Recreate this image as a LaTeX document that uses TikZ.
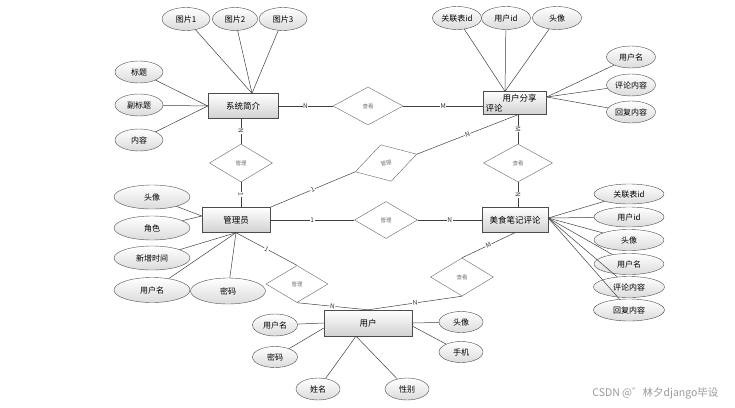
\documentclass[tikz,border=0pt]{standalone}
\usepackage{fontspec}
\setmainfont{Noto Sans CJK SC}
\usepackage{tikz}
\usetikzlibrary{shapes.geometric}

\begin{document}
\begin{tikzpicture}[x=1pt, y=-1pt,
  ent/.style={draw=black!70, top color=white, bottom color=black!18, minimum width=68pt, minimum height=25pt, inner sep=1pt, font=\fontsize{8.5}{10}\selectfont},
  attr/.style={ellipse, draw=black!70, top color=white, bottom color=black!14, minimum width=48pt, minimum height=23pt, inner sep=0pt, font=\fontsize{8}{9}\selectfont},
  rel/.style={diamond, draw=black!60, fill=white, minimum width=66pt, minimum height=38pt, inner sep=0pt, font=\fontsize{5.5}{6}\selectfont, text=black!55},
  ln/.style={draw=black!75, line width=0.5pt},
  card/.style={fill=white, inner sep=0.6pt, sloped, font=\fontsize{6.5}{7}\selectfont, text=black!80}
]
\useasboundingbox (0,0) rectangle (735,407);

\node[ent, minimum width=70pt] at (243,106) (sys) {系统简介};
\node[ent, minimum width=63pt, minimum height=23pt, inner sep=2pt, text width=59pt, align=left] at (515,103) (share) {\hspace*{17pt}用户分享\\评论};
\node[ent] at (236,220) (adm) {管理员};
\node[ent, minimum width=66pt] at (515,220) (cmt) {美食笔记评论};
\node[ent, minimum width=88pt, minimum height=26pt] at (368,323) (usr) {用户};

\node[rel, minimum width=70pt] at (368,106) (see1) {查看};
\node[rel, minimum width=63pt] at (241,163) (mng1) {管理};
\node[rel, minimum width=64pt, rotate=16] at (386,163) (mng2) {管理};
\node[rel, minimum width=69pt] at (518,163) (see2) {查看};
\node[rel, minimum width=63pt, minimum height=37pt] at (386,220) (mng3) {管理};
\node[rel, minimum width=62pt, minimum height=37pt] at (297,284) (mng4) {管理};
\node[rel, minimum width=63pt] at (462,277) (see3) {查看};
\coordinate (sharebot) at (see2.north |- share.south);

\node[attr] at (186,19) (pic1) {图片1};
\node[attr, minimum width=45pt] at (235,19) (pic2) {图片2};
\node[attr] at (283,19) (pic3) {图片3};
\node[attr, minimum height=22pt] at (139,72) (title) {标题};
\node[attr, minimum height=22pt] at (139,105) (subt) {副标题};
\node[attr, minimum height=22pt] at (139,140) (intro) {内容};

\node[attr, minimum width=49pt] at (457,18) (sid) {关联表id};
\node[attr, minimum width=49pt] at (506,18) (suid) {用户id};
\node[attr, minimum width=49pt] at (557,18) (sava) {头像};
\node[attr, minimum width=49pt, minimum height=22pt] at (631,57) (suser) {用户名};
\node[attr, minimum width=49pt, minimum height=22pt] at (631,85) (stext) {评论内容};
\node[attr, minimum width=49pt, minimum height=22pt] at (631,112) (sreply) {回复内容};

\node[attr, minimum width=76pt, minimum height=24pt] at (152,197) (aava) {头像};
\node[attr, minimum width=76pt, minimum height=24pt] at (152,228) (arole) {角色};
\node[attr, minimum width=76pt, minimum height=24pt] at (152,258) (atime) {新增时间};
\node[attr, minimum width=76pt, minimum height=25pt] at (152,290) (aname) {用户名};
\node[attr, minimum width=75pt, minimum height=26pt] at (228,291) (apwd) {密码};

\node[attr, minimum width=70pt, minimum height=20pt] at (629,194) (cid) {关联表id};
\node[attr, minimum width=70pt, minimum height=20pt] at (629,217) (cuid) {用户id};
\node[attr, minimum width=70pt, minimum height=21pt] at (629,240) (cava) {头像};
\node[attr, minimum width=70pt, minimum height=21pt] at (629,264) (cname) {用户名};
\node[attr, minimum width=71pt, minimum height=21pt] at (629,287) (ctext) {评论内容};
\node[attr, minimum width=71pt, minimum height=22pt] at (629,310) (creply) {回复内容};

\node[attr, minimum width=45pt, minimum height=22pt] at (275,325) (uname) {用户名};
\node[attr, minimum width=45pt, minimum height=21pt] at (275,357) (upwd) {密码};
\node[attr, minimum width=44pt, minimum height=22pt] at (318,389) (ureal) {姓名};
\node[attr, minimum width=44pt, minimum height=22pt] at (407,389) (usex) {性别};
\node[attr, minimum width=44pt, minimum height=21pt] at (461,322) (uava) {头像};
\node[attr, minimum width=44pt, minimum height=21pt] at (461,352) (utel) {手机};

\node[anchor=east, text=black!40, font=\fontsize{10.5}{12}\selectfont] at (722,393) (mark) {CSDN @゛林夕django毕设};

\draw[ln] (sys) -- node[card] {N} (see1);
\draw[ln] (see1.east) -- node[card] {M} (see1.east -| share.west);
\draw[ln] (mng1.north |- sys.south) -- node[card] {N} (mng1.north);
\draw[ln] (mng1.south) -- node[card] {1} (mng1.south |- adm.north);
\draw[ln] (adm.north east) -- node[card] {1} (mng2.west);
\draw[ln] (mng2.east) -- node[card] {N} (sharebot);
\draw[ln] (sharebot) -- node[card] {M} (see2.north);
\draw[ln] (see2.south) -- node[card] {N} (see2.south |- cmt.north);
\draw[ln] (adm) -- node[card] {1} (mng3);
\draw[ln] (mng3) -- node[card] {N} (cmt);
\draw[ln] (cmt.south) -- node[card] {M} (see3.north);
\draw[ln] (see3.south) -- node[card] {N} (usr.north);
\draw[ln] (adm.south) -- node[card] {1} (mng4.north);
\draw[ln] (mng4.south) -- node[card] {N} (usr.north);

\draw[ln] (pic1) -- ([xshift=9pt]sys.north);
\draw[ln] (pic2) -- ([xshift=9pt]sys.north);
\draw[ln] (pic3) -- ([xshift=9pt]sys.north);
\draw[ln] (title) -- (sys.west);
\draw[ln] (subt) -- (sys.west);
\draw[ln] (intro) -- (sys.west);

\draw[ln] (sid) -- ([xshift=-10pt]share.north);
\draw[ln] (suid) -- ([xshift=-10pt]share.north);
\draw[ln] (sava) -- ([xshift=-10pt]share.north);
\draw[ln] (suser) -- ([yshift=6pt]share.east);
\draw[ln] (stext) -- ([yshift=6pt]share.east);
\draw[ln] (sreply) -- ([yshift=6pt]share.east);

\draw[ln] (aava) -- ([yshift=4pt]adm.west);
\draw[ln] (arole) -- ([yshift=4pt]adm.west);
\draw[ln] (atime) -- (adm.south);
\draw[ln] (aname) -- (adm.south);
\draw[ln] (apwd) -- (adm.south);

\draw[ln] (cid) -- ([yshift=2pt]cmt.east);
\draw[ln] (cuid) -- ([yshift=2pt]cmt.east);
\draw[ln] (cava) -- ([yshift=2pt]cmt.east);
\draw[ln] (cname) -- ([yshift=2pt]cmt.east);
\draw[ln] (ctext) -- ([yshift=2pt]cmt.east);
\draw[ln] (creply) -- ([yshift=2pt]cmt.east);

\draw[ln] (uname) -- (usr.west);
\draw[ln] (upwd) -- ([yshift=-5pt]usr.west);
\draw[ln] (ureal) -- ([xshift=-12pt]usr.south);
\draw[ln] (usex) -- ([xshift=-12pt]usr.south);
\draw[ln] (uava) -- (usr.east);
\draw[ln] (utel) -- ([yshift=-3pt]usr.east);
\end{tikzpicture}
\end{document}
